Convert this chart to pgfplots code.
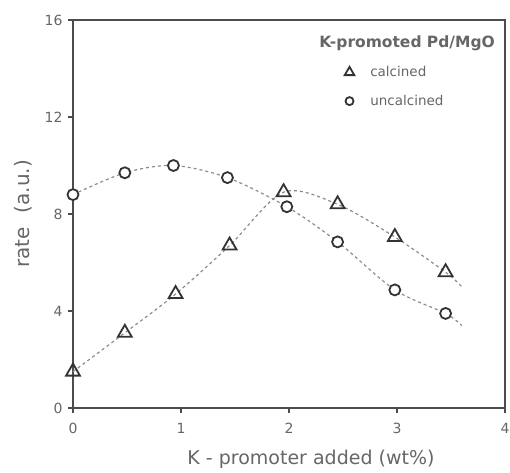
\documentclass[border=0pt]{standalone}
\usepackage{pgfplots}
\pgfplotsset{compat=1.18}
\usepackage{fontspec}
\setmainfont{DejaVu Sans}
\definecolor{ax}{gray}{0.3}
\definecolor{tx}{gray}{0.4}
\definecolor{ln}{gray}{0.55}
\begin{document}
\begin{tikzpicture}[x=1pt,y=1pt]
\begin{axis}[
  scale only axis,
  width=432pt, height=388pt,
  xmin=0, xmax=4, ymin=0, ymax=16,
  xtick={0,1,2,3,4}, ytick={0,4,8,12,16},
  axis line style={ax, line width=2.6pt},
  tick style={ax, line width=1.6pt},
  major tick length=5pt,
  tick align=outside,
  xtick pos=bottom, ytick pos=left,
  /pgf/number format/assume math mode=true,
  tick label style={font=\fontsize{14}{17}\selectfont, text=tx},
  yticklabel style={xshift=-2pt},
  xticklabel style={yshift=-7pt},
  xlabel={K - promoter added (wt\%)},
  ylabel={rate\hspace{14pt}(a.u.)},
  label style={text=tx},
  xlabel style={font=\fontsize{19}{21}\selectfont, yshift=-9pt, xshift=22pt},
  ylabel style={font=\fontsize{20}{22}\selectfont, yshift=6pt},
  legend style={draw=none, fill=none, at={(1,1)}, anchor=north east,
    xshift=-5pt, yshift=-12pt,
    font=\fontsize{13.5}{16}\selectfont, text=tx, row sep=13pt},
  legend cell align=left,
]
\addlegendimage{empty legend}
\addlegendentry{\hspace{-37pt}\fontsize{15.5}{17}\selectfont\textbf{K-promoted Pd/MgO}}
\addlegendimage{only marks, mark=triangle, mark size=5.5pt, mark options={line width=1.8pt, draw=black!80}}
\addlegendentry{\hspace{14pt}calcined}
\addlegendimage{only marks, mark=o, mark size=4pt, mark options={line width=1.8pt, draw=black!80}}
\addlegendentry{\hspace{14pt}uncalcined}
% trend lines (dotted)
\addplot[ln, dash pattern=on 3pt off 3pt, line width=1.2pt, smooth, forget plot]
  coordinates {(0,1.5) (0.48,3.1) (0.95,4.7) (1.45,6.7) (1.95,8.9) (2.45,8.4) (2.98,7.05) (3.45,5.6) (3.6,5.0)};
\addplot[ln, dash pattern=on 3pt off 3pt, line width=1.2pt, smooth, forget plot]
  coordinates {(0,8.8) (0.48,9.7) (0.93,10.0) (1.43,9.5) (1.98,8.3) (2.45,6.85) (2.98,4.87) (3.45,3.9) (3.6,3.4)};
% data points
\addplot[only marks, mark=triangle, mark size=8pt,
  mark options={line width=1.8pt, draw=black!80, fill=white}, forget plot]
  coordinates {(0,1.5) (0.48,3.1) (0.95,4.7) (1.45,6.7) (1.95,8.9) (2.45,8.4) (2.98,7.05) (3.45,5.6)};
\addplot[only marks, mark=*, mark size=5.5pt,
  mark options={line width=1.8pt, draw=black!80, fill=white}, forget plot]
  coordinates {(0,8.8) (0.48,9.7) (0.93,10.0) (1.43,9.5) (1.98,8.3) (2.45,6.85) (2.98,4.87) (3.45,3.9)};
\path (rel axis cs:0,0) coordinate (O);
\end{axis}
\pgfresetboundingbox
\path ([shift={(-73pt,-64pt)}]O) rectangle ++(510pt,472pt);
\end{tikzpicture}
\end{document}
